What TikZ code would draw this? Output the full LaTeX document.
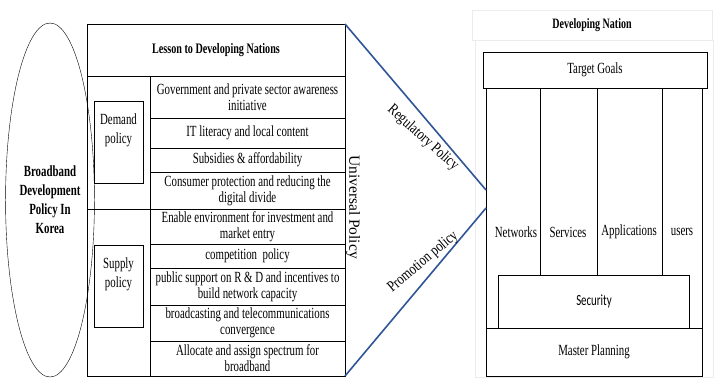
\documentclass[tikz,border=0pt]{standalone}
\usepackage{fontspec}
\setmainfont{Liberation Serif}[FakeStretch=0.70]
\newfontfamily\vertfont{Liberation Serif}
\newfontfamily\diagfont{Liberation Serif}[FakeStretch=0.80]
\newfontfamily\secfont{Carlito}[FakeStretch=0.70]
\usepackage{tikz}
\usetikzlibrary{positioning, shapes.geometric}
\definecolor{policyblue}{RGB}{47,85,151}

\begin{document}
\begin{tikzpicture}[
    x=1pt, y=-1pt,
    font=\fontsize{15.5}{16}\selectfont,
    every node/.style={outer sep=0pt, inner sep=1pt},
    hdr/.style={draw, minimum width=258pt, minimum height=52pt, font=\fontsize{14.5}{16}\selectfont\bfseries},
    cell/.style={draw, minimum width=63pt},
    row/.style={draw, minimum width=195pt, align=center},
    pol/.style={draw, minimum width=49pt, minimum height=82pt, align=center, font=\fontsize{15.5}{19}\selectfont},
    faint/.style={draw=gray!15},
    box/.style={draw, align=center},
    lbl/.style={align=center},
    arr/.style={draw=policyblue, line width=1.6pt},
]
\useasboundingbox (0,0) rectangle (719,377);

% Korea side
\node[ellipse, draw, minimum width=74pt, minimum height=354pt, align=center,
      font=\fontsize{15.5}{19}\selectfont\bfseries] (kor) at (50,200)
      {Broadband\\Development\\Policy In\\Korea};

\node[hdr] (hd) at (216,50) {Lesson to Developing Nations};

\node[cell, minimum height=133pt, below right=0pt and 0pt of hd.south west] (dcol) {};
\node[cell, minimum height=167pt, below=0pt of dcol] (scol) {};
\node[pol] (dem) at (dcol) {Demand\\policy\\[8pt]};
\node[pol] (sup) at ([yshift=6pt]scol) {Supply\\policy\\[8pt]};

% Policy rows
\node[row, minimum height=42pt, below left=0pt and 0pt of hd.south east] (r1)
      {Government and private sector awareness\\initiative};
\node[row, minimum height=30pt, below=0pt of r1] (r2) {IT literacy and local content};
\node[row, minimum height=24pt, below=0pt of r2] (r3) {Subsidies \& affordability};
\node[row, minimum height=37pt, below=0pt of r3] (r4)
      {Consumer protection and reducing the\\digital divide};
\node[row, minimum height=35pt, below=0pt of r4] (r5)
      {Enable environment for investment and\\market entry};
\node[row, minimum height=24pt, below=0pt of r5] (r6) {competition~~policy};
\node[row, minimum height=37pt, below=0pt of r6] (r7)
      {public support on R \& D and incentives to\\build network capacity};
\node[row, minimum height=36pt, below=0pt of r7] (r8)
      {broadcasting and telecommunications\\convergence};
\node[row, minimum height=35pt, below=0pt of r8] (r9)
      {Allocate and assign spectrum for\\broadband};

\node[rotate=-90, font=\fontsize{15.5}{16}\vertfont] (univ) at (353,207) {Universal Policy};

% Developing nation side
\node[faint, minimum width=238pt, minimum height=337pt] (panel) at (594,208.5) {};
\node[faint, minimum width=240pt, minimum height=30pt,
      font=\fontsize{14.3}{15}\selectfont\bfseries] (dn) at (592,25) {Developing Nation};
\node[box, minimum width=224pt, minimum height=36pt] (goals) at (595,70) {Target Goals};
\node[box, minimum width=216pt, minimum height=240pt] (pil) at (594,208) {};
\node[box, minimum width=216pt, minimum height=48pt, below=0pt of pil] (plan) {Master Planning};
\node[box, minimum width=191pt, minimum height=53pt, font=\fontsize{15.5}{16}\secfont,
      above=0pt of plan] (sec) {Security};
\foreach \xc in {540,597,662}
  \draw (\xc,88) -- (\xc,275);

\node[lbl] (net) at (516,232) {Networks};
\node[lbl] (serv) at (568,232) {Services};
\node[lbl] (app) at (629,232) {Applications};
\node[lbl] (usr) at (682,232) {users};

% Funnel lines
\coordinate (tipa) at (486,190);
\coordinate (tipb) at (486,208);
\draw[arr] (hd.north east) -- (tipa);
\draw[arr] (r9.south east) -- (tipb);
\node[rotate=-42, font=\fontsize{15.5}{16}\diagfont] (reg) at (423,138) {Regulatory Policy};
\node[rotate=40, font=\fontsize{15.5}{16}\diagfont] (prom) at (423,262) {Promotion policy};

\end{tikzpicture}
\end{document}
